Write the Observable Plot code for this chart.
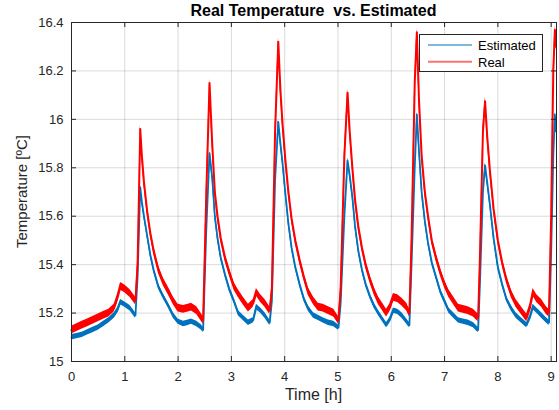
<!DOCTYPE html>
<html>
<head>
<meta charset="utf-8">
<script src="https://cdn.jsdelivr.net/npm/d3@7"></script>
<script src="https://cdn.jsdelivr.net/npm/@observablehq/plot@0.6"></script>
<style>
  html, body { margin: 0; padding: 0; background: #fff; }
  svg { display: block; }
</style>
</head>
<body>
<div id="chart"></div>
<script>
// ---- data ----
const titleText = "Real Temperature  vs. Estimated";
const xLabel = "Time [h]";
const yLabel = "Temperature [ºC]";
const seriesNames = ["Estimated", "Real"];
const xTicks = [0, 1, 2, 3, 4, 5, 6, 7, 8, 9];
const yTicks = [15, 15.2, 15.4, 15.6, 15.8, 16, 16.2, 16.4];

const time = [
  0.00, 0.10, 0.20, 0.30, 0.40, 0.50, 0.60, 0.70, 0.80, 0.86, 0.92, 1.00, 1.10, 1.20, 1.24, 1.29,
  1.32, 1.36, 1.42, 1.48, 1.54, 1.63, 1.72, 1.82, 1.91, 2.00, 2.10, 2.19, 2.25, 2.35, 2.44, 2.47, 2.53, 2.59,
  2.64, 2.69, 2.74, 2.80, 2.88, 2.96, 3.05, 3.13, 3.22, 3.32, 3.41, 3.47, 3.55, 3.63, 3.72, 3.76, 3.82, 3.88,
  3.92, 3.96, 4.01, 4.07, 4.13, 4.20, 4.28, 4.36, 4.44, 4.54, 4.63, 4.72, 4.82, 4.92, 5.01, 5.05, 5.12, 5.18,
  5.22, 5.27, 5.32, 5.38, 5.45, 5.52, 5.60, 5.68, 5.76, 5.85, 5.91, 5.97, 6.04, 6.12, 6.20, 6.29, 6.34, 6.38, 6.44, 6.48,
  6.52, 6.57, 6.63, 6.69, 6.76, 6.84, 6.92, 7.00, 7.08, 7.17, 7.26, 7.35, 7.44, 7.54, 7.63, 7.66, 7.72, 7.76,
  7.80, 7.85, 7.92, 8.00, 8.08, 8.16, 8.25, 8.34, 8.44, 8.54, 8.60, 8.66, 8.73, 8.82, 8.91, 8.96, 9.00, 9.04, 9.07, 9.09
];
const realTemp = [
  15.13, 15.14, 15.15, 15.16, 15.17, 15.18, 15.19, 15.20, 15.22, 15.26, 15.31, 15.30, 15.28, 15.25, 15.40, 15.96,
  15.85, 15.74, 15.62, 15.53, 15.46, 15.38, 15.33, 15.29, 15.25, 15.22, 15.215, 15.22, 15.225, 15.21, 15.18, 15.17, 15.70, 16.15,
  15.90, 15.70, 15.60, 15.51, 15.43, 15.37, 15.31, 15.28, 15.25, 15.22, 15.24, 15.285, 15.26, 15.24, 15.21, 15.30, 15.95, 16.32,
  16.12, 15.98, 15.84, 15.70, 15.59, 15.50, 15.42, 15.35, 15.29, 15.25, 15.225, 15.22, 15.21, 15.20, 15.17, 15.30, 15.85, 16.11,
  15.95, 15.80, 15.67, 15.56, 15.47, 15.40, 15.34, 15.29, 15.25, 15.22, 15.20, 15.22, 15.265, 15.26, 15.245, 15.225, 15.20, 15.50, 16.15, 16.36,
  16.08, 15.85, 15.70, 15.60, 15.50, 15.43, 15.37, 15.32, 15.28, 15.25, 15.22, 15.215, 15.21, 15.20, 15.18, 15.40, 15.95, 16.075,
  15.93, 15.79, 15.63, 15.50, 15.41, 15.34, 15.28, 15.24, 15.21, 15.18, 15.22, 15.285, 15.26, 15.24, 15.21, 15.20, 15.60, 16.20, 16.37, 16.30
];
const estTemp = [
  15.10, 15.105, 15.11, 15.12, 15.13, 15.14, 15.155, 15.17, 15.19, 15.21, 15.245, 15.235, 15.22, 15.19, 15.35, 15.72,
  15.66, 15.60, 15.52, 15.44, 15.38, 15.31, 15.27, 15.23, 15.19, 15.165, 15.155, 15.16, 15.165, 15.155, 15.14, 15.13, 15.55, 15.86,
  15.76, 15.60, 15.51, 15.43, 15.36, 15.30, 15.25, 15.20, 15.18, 15.16, 15.17, 15.225, 15.21, 15.19, 15.16, 15.25, 15.75, 15.99,
  15.90, 15.82, 15.70, 15.57, 15.47, 15.39, 15.32, 15.26, 15.22, 15.19, 15.18, 15.17, 15.16, 15.155, 15.14, 15.24, 15.60, 15.83,
  15.77, 15.68, 15.56, 15.46, 15.38, 15.32, 15.27, 15.23, 15.20, 15.17, 15.15, 15.17, 15.21, 15.205, 15.19, 15.165, 15.15, 15.40, 15.80, 16.02,
  15.87, 15.70, 15.58, 15.49, 15.41, 15.35, 15.29, 15.25, 15.21, 15.19, 15.17, 15.165, 15.16, 15.15, 15.13, 15.30, 15.70, 15.81,
  15.74, 15.65, 15.51, 15.39, 15.32, 15.26, 15.22, 15.19, 15.17, 15.15, 15.18, 15.225, 15.21, 15.19, 15.17, 15.16, 15.45, 15.85, 16.02, 15.95
];
const realNoise = 0.016;
const estNoise = 0.011;

// ---- table for Plot ----
const real = time.map((t, i) => ({t, v: realTemp[i]}));
const est = time.map((t, i) => ({t, v: estTemp[i]}));

const W = 559, H = 410;
const mL = 71, mR = 3, mT = 22, mB = 49;
const fw = W - mL - mR, fh = H - mT - mB;
const ink = "#262626";
const blue = "#0072BD", red = "#FF0000";
const font = "'Liberation Sans', Arial, Helvetica, sans-serif";

const chart = Plot.plot({
  width: W, height: H,
  marginLeft: mL, marginRight: mR, marginTop: mT, marginBottom: mB,
  x: {domain: [0, 9.1]},
  y: {domain: [15, 16.4]},
  style: {fontFamily: font, fontSize: "13px", color: ink, background: "#fff"},
  marks: [
    Plot.gridX(xTicks, {stroke: "#000", strokeOpacity: 0.15, strokeWidth: 1}),
    Plot.gridY(yTicks, {stroke: "#000", strokeOpacity: 0.15, strokeWidth: 1}),
    Plot.areaY(est, {x: "t", y1: d => d.v - estNoise, y2: d => d.v + estNoise, fill: blue}),
    Plot.line(est, {x: "t", y: "v", stroke: blue, strokeWidth: 1.8, strokeLinejoin: "round"}),
    Plot.areaY(real, {x: "t", y1: d => d.v - realNoise, y2: d => d.v + realNoise, fill: red}),
    Plot.line(real, {x: "t", y: "v", stroke: red, strokeWidth: 2, strokeLinejoin: "round"}),
    Plot.frame({stroke: ink, strokeWidth: 1}),
    Plot.tickX(xTicks, {x: d => d, insetTop: fh - 5, stroke: ink}),
    Plot.tickX(xTicks, {x: d => d, insetBottom: fh - 5, stroke: ink}),
    Plot.tickY(yTicks, {y: d => d, insetRight: fw - 5, stroke: ink}),
    Plot.tickY(yTicks, {y: d => d, insetLeft: fw - 5, stroke: ink}),
    Plot.axisX(xTicks, {tickSize: 0, tickPadding: 10, fontSize: 13, fill: ink, label: null, tickFormat: d => String(d)}),
    Plot.axisY(yTicks, {tickSize: 0, tickPadding: 8, fontSize: 13, fill: ink, label: null, tickFormat: d => String(+d.toFixed(1))})
  ]
});

document.getElementById("chart").appendChild(chart);

// ---- titles, labels, legend ----
const svg = d3.select(chart);
svg.append("text")
  .attr("x", mL + fw / 2).attr("y", 16)
  .attr("text-anchor", "middle")
  .attr("font-family", font).attr("font-size", 16).attr("font-weight", "bold")
  .attr("fill", "#000")
  .text(titleText);
svg.append("text")
  .attr("x", mL + fw / 2).attr("y", 400)
  .attr("text-anchor", "middle")
  .attr("font-family", font).attr("font-size", 16)
  .attr("fill", ink)
  .text(xLabel);
svg.append("text")
  .attr("transform", `translate(27, ${mT + fh / 2}) rotate(-90)`)
  .attr("text-anchor", "middle")
  .attr("font-family", font).attr("font-size", 15)
  .attr("fill", ink)
  .text(yLabel);

const lg = svg.append("g");
lg.append("rect").attr("x", 419.5).attr("y", 34.5).attr("width", 123).attr("height", 37)
  .attr("fill", "#fff").attr("stroke", ink).attr("stroke-width", 1);
const legendColors = [blue, "#ff7070"];
const legendWidths = [1, 2];
seriesNames.forEach((name, i) => {
  const y = 45 + i * 16.7;
  lg.append("line").attr("x1", 428).attr("x2", 472).attr("y1", y).attr("y2", y)
    .attr("stroke", legendColors[i]).attr("stroke-width", legendWidths[i]);
  lg.append("text").attr("x", 478).attr("y", y + 5)
    .attr("text-anchor", "start")
    .attr("font-family", font).attr("font-size", 13).attr("fill", "#000")
    .text(name);
});
</script>
</body>
</html>
